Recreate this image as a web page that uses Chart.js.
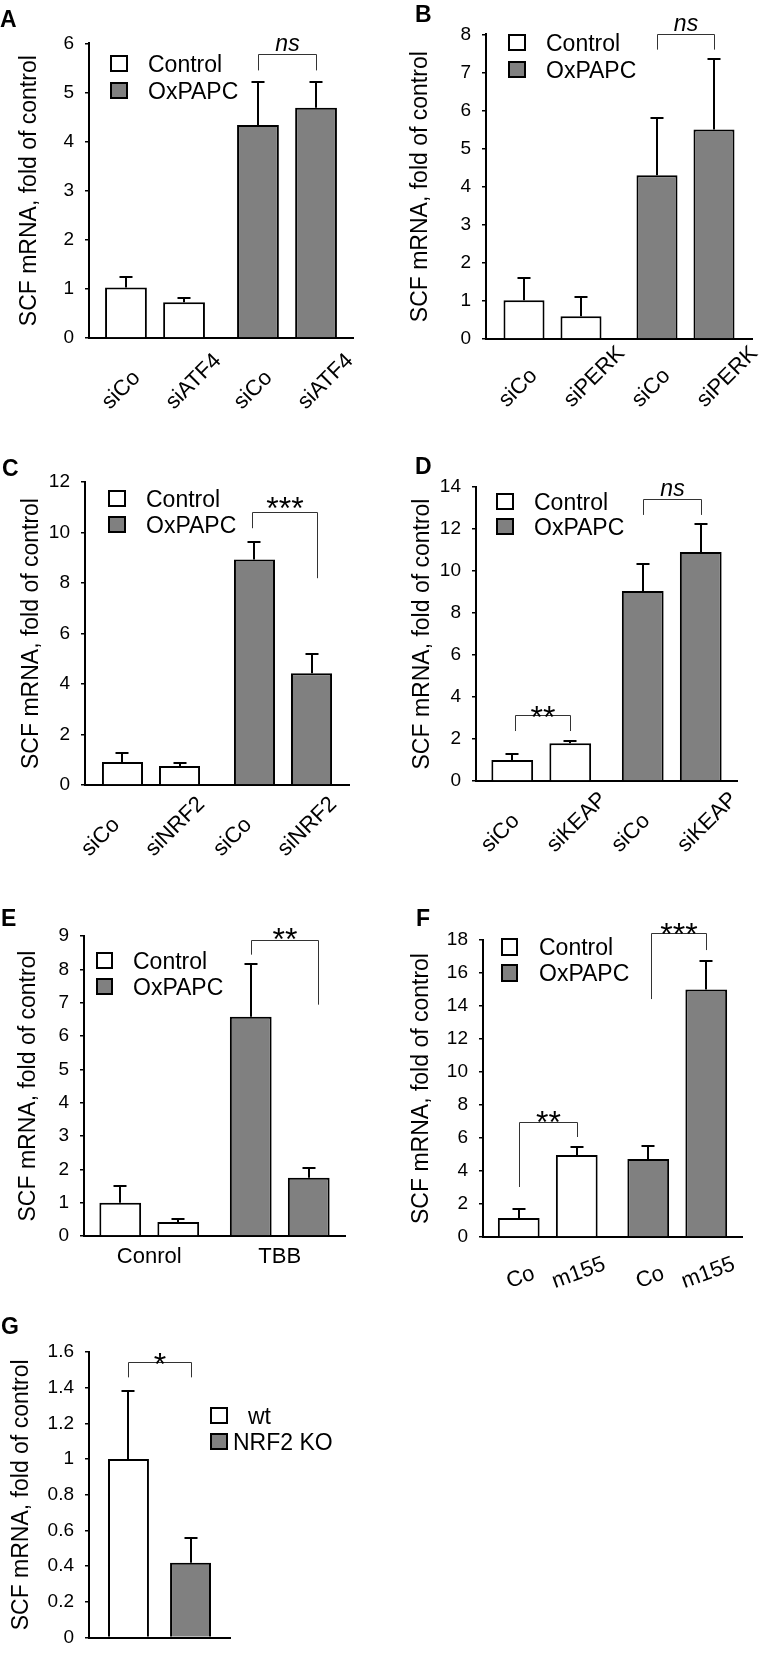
<!DOCTYPE html>
<html><head><meta charset="utf-8">
<script src="https://cdn.jsdelivr.net/npm/chart.js@4.4.1/dist/chart.umd.min.js"></script>
<style>
html,body{margin:0;padding:0;background:#fff;}
body{width:763px;height:1660px;position:relative;overflow:hidden;font-family:"Liberation Sans",Arial,sans-serif;color:#000;}
canvas{position:absolute;}
.plabel{position:absolute;font-weight:bold;font-size:23px;line-height:24px;}
.ltxt{position:absolute;font-size:23px;line-height:24px;white-space:nowrap;}
.lbox{position:absolute;border:2px solid #000;box-sizing:border-box;}
</style></head><body>
<script>
// ---------------- DATA ----------------
// Panel A
const A_labels = ['siCo', 'siATF4'];
const A_control = [1.03, 0.73];
const A_controlErr = [0.22, 0.08];
const A_oxpapc = [4.34, 4.69];
const A_oxpapcErr = [0.87, 0.52];
const A_ticks = ['0','1','2','3','4','5','6'];
// Panel B
const B_labels = ['siCo', 'siPERK'];
const B_control = [1.02, 0.60];
const B_controlErr = [0.58, 0.50];
const B_oxpapc = [4.30, 5.50];
const B_oxpapcErr = [1.50, 1.85];
const B_ticks = ['0','1','2','3','4','5','6','7','8'];
// Panel C
const C_labels = ['siCo', 'siNRF2'];
const C_control = [0.91, 0.75];
const C_controlErr = [0.35, 0.12];
const C_oxpapc = [8.93, 4.43];
const C_oxpapcErr = [0.71, 0.77];
const C_ticks = ['0','2','4','6','8','10','12'];
// Panel D
const D_labels = ['siCo', 'siKEAP'];
const D_control = [1.00, 1.80];
const D_controlErr = [0.28, 0.10];
const D_oxpapc = [9.05, 10.90];
const D_oxpapcErr = [1.28, 1.34];
const D_ticks = ['0','2','4','6','8','10','12','14'];
// Panel E
const E_groups = ['Conrol', 'TBB'];
const E_control = [1.00, 0.42];
const E_controlErr = [0.50, 0.10];
const E_oxpapc = [6.58, 1.75];
const E_oxpapcErr = [1.59, 0.30];
const E_ticks = ['0','1','2','3','4','5','6','7','8','9'];
// Panel F
const F_labels = ['Co', 'm155'];
const F_control = [1.15, 4.97];
const F_controlErr = [0.55, 0.48];
const F_oxpapc = [4.73, 15.0];
const F_oxpapcErr = [0.77, 1.70];
const F_ticks = ['0','2','4','6','8','10','12','14','16','18'];
// Panel G
const G_series = ['wt', 'NRF2 KO'];
const G_values = [1.00, 0.42];
const G_errors = [0.38, 0.14];
const G_ticks = ['0','0.2','0.4','0.6','0.8','1','1.2','1.4','1.6'];

const yTitle = 'SCF mRNA, fold of control';
const legendNames = ['Control', 'OxPAPC'];

// ---------------- STYLE ----------------
const WHITE = '#ffffff', GREY = '#808080';
const FONT = '"Liberation Sans", Arial, sans-serif';
Chart.defaults.font.family = FONT;
Chart.defaults.color = '#000';

function pairDatasets(labels, ctl, ctlErr, trt, trtErr, cp, bp) {
  return labels.map((lab, j) => ({
    label: lab, data: [ctl[j], trt[j]], errors: [ctlErr[j], trtErr[j]],
    backgroundColor: [WHITE, GREY], borderColor: '#000', borderWidth: 2,
    categoryPercentage: cp, barPercentage: bp
  }));
}

const annotPlugin = {
  id: 'annot',
  afterDraw(chart) {
    const P = chart.canvas._annot; if (!P) return;
    const ctx = chart.ctx, ys = chart.scales.y;
    const nds = chart.data.datasets.length;
    const bar = k => chart.getDatasetMeta(k % nds).data[Math.floor(k / nds)];
    const val = k => chart.data.datasets[k % nds].data[Math.floor(k / nds)];
    const err = k => chart.data.datasets[k % nds].errors[Math.floor(k / nds)];
    const nb = nds * chart.data.labels.length;
    const axisY = ys.getPixelForValue(0);
    ctx.save();
    ctx.strokeStyle = '#000'; ctx.lineWidth = 2; ctx.lineCap = 'butt';
    for (let k = 0; k < nb; k++) {
      const x = Math.round(bar(k).x);
      const y0 = ys.getPixelForValue(val(k));
      const y1 = Math.round(ys.getPixelForValue(val(k) + err(k)));
      ctx.beginPath();
      ctx.moveTo(x, y0); ctx.lineTo(x, y1);
      ctx.moveTo(x - 6.5, y1); ctx.lineTo(x + 6.5, y1);
      ctx.stroke();
    }
    // significance brackets
    (P.brackets || []).forEach(br => {
      const xa = Math.round(bar(br.a).x + (br.dxA || 0)) + 0.5;
      const xb = Math.round(bar(br.b).x + (br.dxB || 0)) + 0.5;
      const yt = Math.round(ys.getPixelForValue(br.top)) + 0.5;
      const ya = ys.getPixelForValue(br.endA), yb = ys.getPixelForValue(br.endB);
      ctx.strokeStyle = '#333'; ctx.lineWidth = 1;
      ctx.beginPath(); ctx.moveTo(xa, ya); ctx.lineTo(xa, yt); ctx.lineTo(xb, yt); ctx.lineTo(xb, yb); ctx.stroke();
      ctx.fillStyle = '#000'; ctx.textAlign = 'center'; ctx.textBaseline = 'alphabetic';
      const cx = (xa + xb) / 2;
      if (br.text === 'ns') {
        ctx.font = 'italic 23px ' + FONT;
        ctx.fillText('ns', cx, yt - 4);
      } else {
        ctx.font = '32px ' + FONT;
        ctx.fillText(br.text, cx, yt - (br.gap || 4) + 14);
      }
    });
    // per-bar category labels
    if (P.labelMode) {
      ctx.fillStyle = '#000'; ctx.font = '22px ' + FONT;
      const th = P.labelAngle * Math.PI / 180;
      for (let k = 0; k < nb; k++) {
        const text = chart.data.datasets[k % nds].label;
        const w = ctx.measureText(text).width;
        const bx = bar(k).x;
        ctx.save();
        if (P.labelMode === 'start') {
          ctx.translate(bx + P.labelDx + 0.25 * (w - 44), axisY + P.labelBottom);
          ctx.rotate(-th);
          ctx.textAlign = 'left'; ctx.textBaseline = 'alphabetic';
          ctx.fillText(text, 0, 0);
        } else {
          const h = 16;
          ctx.translate(bx + 2, axisY + P.labelBottom - (w * Math.sin(th) + h * Math.cos(th)) / 2);
          ctx.rotate(-th);
          ctx.textAlign = 'center'; ctx.textBaseline = 'middle';
          ctx.fillText(text, 0, 0);
        }
        ctx.restore();
      }
    }
    ctx.restore();
  }
};

function makeChart(p) {
  const cv = document.createElement('canvas');
  cv.width = p.canvas.w; cv.height = p.canvas.h;
  Object.assign(cv.style, {left: p.canvas.l + 'px', top: p.canvas.t + 'px', width: p.canvas.w + 'px', height: p.canvas.h + 'px'});
  cv._annot = p.annot;
  document.body.appendChild(cv);
  const a = p.area;
  new Chart(cv, {
    type: 'bar',
    data: {labels: p.groups, datasets: p.datasets},
    options: {
      responsive: false, animation: false, devicePixelRatio: 1,
      layout: {padding: {top: a.y0 - p.canvas.t, left: 0, right: p.canvas.l + p.canvas.w - a.x1, bottom: 0}},
      plugins: {legend: {display: false}, tooltip: {enabled: false}},
      scales: {
        x: {
          grid: {display: false, drawTicks: false},
          border: {display: true, color: '#000', width: 2},
          ticks: {display: !!p.showX, font: {size: 22}, color: '#000', padding: 8, maxRotation: 0, autoSkip: false},
          afterFit: s => { s.height = p.canvas.t + p.canvas.h - a.y1; }
        },
        y: {
          min: 0, max: p.ymax,
          ticks: {stepSize: p.step, font: {size: 19}, color: '#000', padding: 11, callback: (v, i) => p.ticks[i]},
          grid: {drawOnChartArea: false, drawTicks: true, tickLength: 4, color: '#000', lineWidth: 1.5},
          border: {display: true, color: '#000', width: 2},
          title: {display: true, text: yTitle, font: {size: 23}, color: '#000', padding: {top: p.titlePad, bottom: 0}},
          afterFit: s => { s.width = a.x0 - p.canvas.l; }
        }
      }
    },
    plugins: [annotPlugin]
  });
}

const groupsHidden = ['Control', 'OxPAPC'];

makeChart({
  canvas: {l: 0, t: 21, w: 381, h: 400}, area: {x0: 89, y0: 41, x1: 353, y1: 338},
  groups: groupsHidden, datasets: pairDatasets(A_labels, A_control, A_controlErr, A_oxpapc, A_oxpapcErr, 0.88, 0.72),
  ymax: 6, step: 1, ticks: A_ticks, titlePad: 16,
  annot: {labelMode: 'start', labelAngle: 45, labelDx: -16, labelBottom: 72,
    brackets: [{a: 2, b: 3, top: 5.78, endA: 5.45, endB: 5.45, text: 'ns'}]}
});
makeChart({
  canvas: {l: 381, t: 12, w: 382, h: 409}, area: {x0: 486, y0: 32, x1: 752, y1: 339},
  groups: groupsHidden, datasets: pairDatasets(B_labels, B_control, B_controlErr, B_oxpapc, B_oxpapcErr, 0.857, 0.72),
  ymax: 8, step: 1, ticks: B_ticks, titlePad: 26,
  annot: {labelMode: 'start', labelAngle: 45, labelDx: -17, labelBottom: 69,
    brackets: [{a: 2, b: 3, top: 8.02, endA: 7.6, endB: 7.6, text: 'ns'}]}
});
makeChart({
  canvas: {l: 0, t: 430, w: 381, h: 440}, area: {x0: 85, y0: 482, x1: 349, y1: 785},
  groups: groupsHidden, datasets: pairDatasets(C_labels, C_control, C_controlErr, C_oxpapc, C_oxpapcErr, 0.864, 0.72),
  ymax: 12, step: 2, ticks: C_ticks, titlePad: 18,
  annot: {labelMode: 'start', labelAngle: 45, labelDx: -33, labelBottom: 72,
    brackets: [{a: 2, b: 3, top: 10.8, endA: 10.17, endB: 8.19, text: '***', dxA: -2, dxB: 5, gap: 8}]}
});
makeChart({
  canvas: {l: 381, t: 430, w: 382, h: 440}, area: {x0: 476, y0: 487, x1: 737, y1: 781},
  groups: groupsHidden, datasets: pairDatasets(D_labels, D_control, D_controlErr, D_oxpapc, D_oxpapcErr, 0.889, 0.72),
  ymax: 14, step: 2, ticks: D_ticks, titlePad: 28,
  annot: {labelMode: 'start', labelAngle: 45, labelDx: -23, labelBottom: 72,
    brackets: [{a: 2, b: 3, top: 13.43, endA: 12.67, endB: 12.67, text: 'ns'},
               {a: 0, b: 1, top: 3.14, endA: 2.38, endB: 2.38, text: '**', dxA: 3, gap: 2}]}
});
makeChart({
  canvas: {l: 0, t: 880, w: 381, h: 400}, area: {x0: 84, y0: 936, x1: 345, y1: 1236},
  groups: E_groups, showX: true,
  datasets: pairDatasets(['', ''], E_control, E_controlErr, E_oxpapc, E_oxpapcErr, 0.889, 0.72),
  ymax: 9, step: 1, ticks: E_ticks, titlePad: 15,
  annot: {brackets: [{a: 2, b: 3, top: 8.89, endA: 8.44, endB: 6.94, text: '**', dxB: 9, gap: 5}]}
});
makeChart({
  canvas: {l: 381, t: 880, w: 382, h: 420}, area: {x0: 483, y0: 940, x1: 742, y1: 1237},
  groups: groupsHidden, datasets: pairDatasets(F_labels, F_control, F_controlErr, F_oxpapc, F_oxpapcErr, 0.896, 0.72),
  ymax: 18, step: 2, ticks: F_ticks, titlePad: 27,
  annot: {labelMode: 'center', labelAngle: 20, labelBottom: 53,
    brackets: [{a: 2, b: 3, top: 18.42, endA: 14.42, endB: 17.39, text: '***', dxA: 3, gap: 3},
               {a: 0, b: 1, top: 6.97, endA: 3.03, endB: 6.06, text: '**', gap: 4}]}
});
makeChart({
  canvas: {l: 0, t: 1300, w: 381, h: 360}, area: {x0: 89, y0: 1352, x1: 230, y1: 1645},
  groups: [''],
  datasets: G_series.map((s, j) => ({label: s, data: [G_values[j]], errors: [G_errors[j]],
    backgroundColor: j === 0 ? WHITE : GREY, borderColor: '#000', borderWidth: 2,
    categoryPercentage: 0.88, barPercentage: 0.66})),
  ymax: 1.6, step: 0.2, ticks: G_ticks, titlePad: 8,
  annot: {brackets: [{a: 0, b: 1, top: 1.546, endA: 1.458, endB: 1.458, text: '*', gap: 2}]}
});

// ---------------- LEGENDS & PANEL LETTERS ----------------
function el(cls, styles, text) {
  const d = document.createElement('div'); d.className = cls;
  Object.assign(d.style, styles); if (text) d.textContent = text;
  document.body.appendChild(d);
}
function legend(bx, bw, boxes, tx, names) {
  boxes.forEach((b, i) => {
    el('lbox', {left: bx + 'px', top: b[0] + 'px', width: bw + 'px', height: b[1] + 'px', background: i === 0 ? WHITE : GREY});
    el('ltxt', {left: (Array.isArray(tx) ? tx[i] : tx) + 'px', top: (b[0] + b[1] / 2 - 12) + 'px'}, names[i]);
  });
}
legend(110, 18, [[55, 17], [82, 17]], 148, legendNames);
legend(508, 18, [[34, 17], [61, 17]], 546, legendNames);
legend(108, 18, [[490, 17], [516, 17]], 146, legendNames);
legend(496, 18, [[493, 17], [518, 17]], 534, legendNames);
legend(96, 17, [[952, 17], [978, 17]], 133, legendNames);
legend(501, 17, [[938, 18], [964, 18]], 539, legendNames);
legend(210, 18, [[1407, 17], [1433, 17]], [248, 233], G_series);

[['A', 0, 19], ['B', 415, 14], ['C', 2, 468], ['D', 415, 466], ['E', 1, 918], ['F', 416, 918], ['G', 1, 1326]]
  .forEach(([t, x, cy]) => el('plabel', {left: x + 'px', top: (cy - 12) + 'px'}, t));
</script>
</body></html>
